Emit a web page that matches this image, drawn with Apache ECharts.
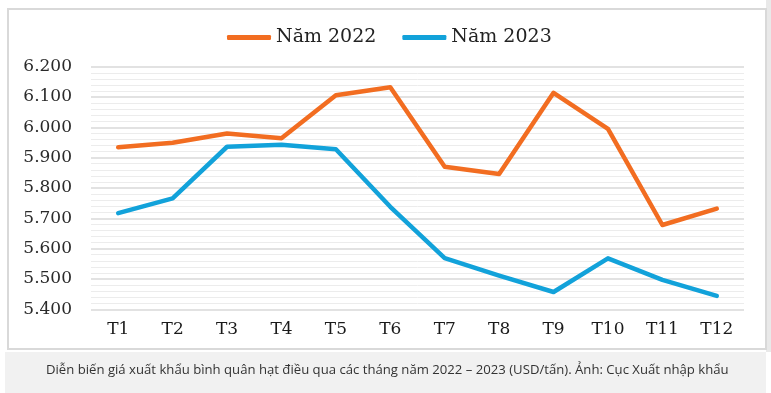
<!DOCTYPE html>
<html>
<head>
<meta charset="utf-8">
<script src="https://cdn.jsdelivr.net/npm/echarts@6/dist/echarts.min.js"></script>
<style>
html,body{margin:0;padding:0;background:#fff;}
#c{width:771px;height:393px;}
</style>
</head>
<body>
<div id="c"></div>
<script>
const categories = ['T1','T2','T3','T4','T5','T6','T7','T8','T9','T10','T11','T12'];
const seriesNames = ['Năm 2022','Năm 2023'];
const values2022 = [5934,5949,5980,5964,6106,6132,5870,5846,6114,5995,5678,5732];
const values2023 = [5717,5766,5936,5943,5928,5738,5569,5511,5457,5568,5497,5444];
const caption = 'Diễn biến giá xuất khẩu bình quân hạt điều qua các tháng năm 2022 – 2023 (USD/tấn). Ảnh: Cục Xuất nhập khẩu';

const chart = echarts.init(document.getElementById('c'), null, {renderer:'canvas'});
const fmt = v => {
  const s = String(Math.round(v));
  return s.slice(0, s.length-3) + '.' + s.slice(-3);
};
chart.setOption({
  animation:false,
  backgroundColor:'#ffffff',
  graphic:[
    {type:'rect', z:-10, shape:{x:766,y:0,width:5,height:352}, style:{fill:'#e9e9e9'}},
    {type:'rect', z:-9, shape:{x:8,y:9,width:758,height:340}, style:{fill:'#ffffff', stroke:'#d9d9d9', lineWidth:2}},
    {type:'rect', z:-9, shape:{x:5,y:352,width:761,height:41}, style:{fill:'#f1f1f1'}},
    {type:'text', z:10, left:46, top:364, style:{text:caption, fill:'#333333', font:'13.15px "Open Sans"'}}
  ],
  legend:{
    data:seriesNames,
    top:23,
    left:222,
    itemWidth:44,
    itemHeight:5,
    itemGap:26,
    icon:'roundRect',
    textStyle:{fontFamily:'DejaVu Serif', fontSize:19, color:'#222'}
  },
  grid:{left:91, right:27, top:66.7, bottom:83.7, containLabel:false},
  xAxis:{
    type:'category',
    data:categories,
    boundaryGap:true,
    axisLine:{show:false},
    axisTick:{show:false},
    axisLabel:{margin:12, fontFamily:'DejaVu Serif', fontSize:17, color:'#1a1a1a'}
  },
  yAxis:{
    type:'value',
    min:5400, max:6200, interval:100,
    axisLine:{show:false},
    axisTick:{show:false},
    axisLabel:{margin:19, fontFamily:'DejaVu Serif', fontSize:17, color:'#2a2a2a', formatter:fmt},
    splitLine:{lineStyle:{color:'#d9d9d9', width:1.5}},
    minorTick:{show:false, splitNumber:5},
    minorSplitLine:{show:true, lineStyle:{color:'#ececec', width:1}}
  },
  series:[
    {name:seriesNames[0], type:'line', data:values2022, symbol:'none', color:'#F26D21',
     lineStyle:{width:4.5, color:'#F26D21', cap:'round', join:'round'}},
    {name:seriesNames[1], type:'line', data:values2023, symbol:'none', color:'#12A2DA',
     lineStyle:{width:4.5, color:'#12A2DA', cap:'round', join:'round'}}
  ]
});
</script>
</body>
</html>
